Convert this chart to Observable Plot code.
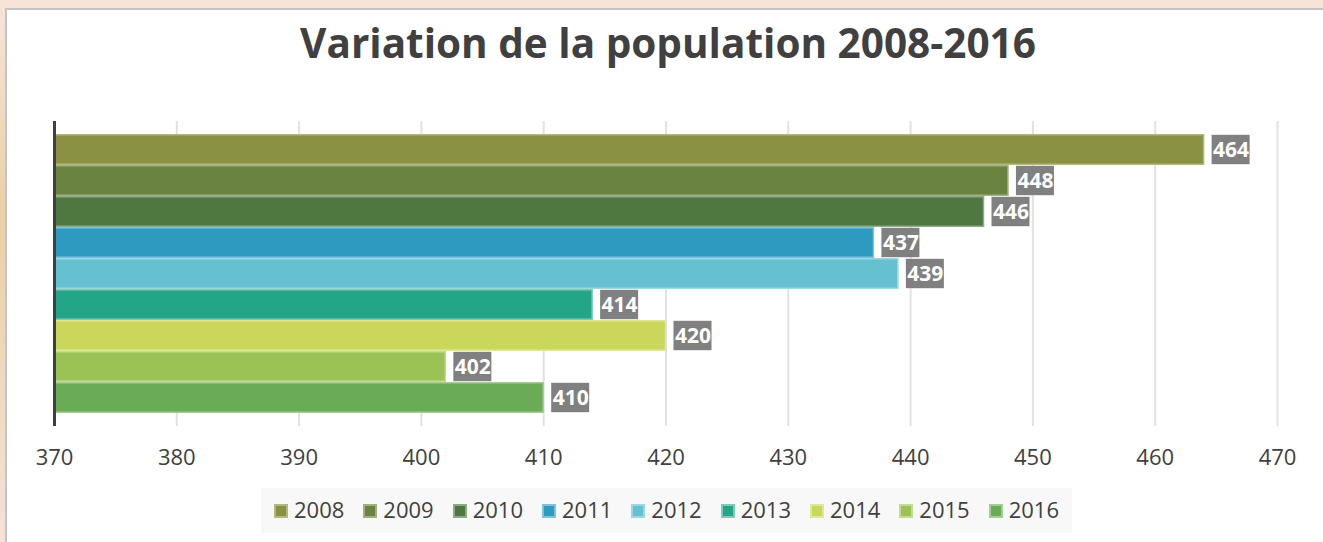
<!DOCTYPE html>
<html><head><meta charset="utf-8">
<script src="https://cdn.jsdelivr.net/npm/d3@7"></script>
<script src="https://cdn.jsdelivr.net/npm/@observablehq/plot@0.6"></script>
<style>
html,body{margin:0;padding:0;}
body{width:1323px;height:542px;overflow:hidden;position:relative;font-family:"Open Sans",sans-serif;
background:linear-gradient(180deg,#f7e4d8 0%,#e9d0a8 40%,#f5e2d6 100%);}
#panel{position:absolute;left:5px;top:8px;width:1330px;height:560px;background:#fff;border:2px solid #c4c4c4;box-sizing:border-box;}
#title{position:absolute;left:0;width:1336px;top:15px;text-align:center;font-weight:700;font-size:40.5px;color:#404040;}
#chart{position:absolute;left:0;top:0;}
#legend{position:absolute;left:261px;top:488px;width:811px;height:45px;background:#f8f8f8;display:flex;justify-content:center;align-items:center;gap:19px;}
.item{display:flex;align-items:center;font-size:22px;color:#404040;margin-top:-3px;}
.sw{width:10px;height:10px;border:2px solid;margin-right:6px;margin-top:3px;}
</style></head>
<body>
<div id="panel"></div>
<div id="title">Variation de la population 2008-2016</div>
<div id="chart"></div>
<div id="legend"></div>
<script>
const years = ["2008","2009","2010","2011","2012","2013","2014","2015","2016"];
const values = [464,448,446,437,439,414,420,402,410];
const colors = ["#8a9142","#6b8340","#4e7840","#2e9ac0","#65c0cf","#23a587","#cad75a","#9bc255","#6aac55"];
const strokes = ["#b3b87e","#a0b080","#8fa888","#7cc2dc","#9ad8e2","#7ccbb8","#e0e898","#c2dc95","#a4cc95"];
const xTicks = [370,380,390,400,410,420,430,440,450,460,470];
const baseline = 370;

const data = years.map((y,i)=>({year:y,value:values[i],color:colors[i],stroke:strokes[i]}));

const plot = Plot.plot({
  width:1323, height:480,
  marginLeft:54, marginRight:46, marginTop:121, marginBottom:54,
  style:{fontFamily:"Open Sans", fontSize:"22px", color:"#404040", background:"transparent"},
  x:{domain:[370,470], ticks:xTicks, label:null},
  y:{domain:years, padding:0, insetTop:9, insetBottom:10, axis:null},
  marks:[
    Plot.ruleX(xTicks.slice(1), {stroke:"#e2e2e2", strokeWidth:2}),
    Plot.barX(data, {y:"year", x1:baseline, x2:"value", fill:d=>d.color, stroke:d=>d.stroke, strokeWidth:1.5, insetTop:0.75, insetBottom:0.75}),
    Plot.barX(data, {y:"year", x1:"value", x2:"value", fill:"#808080", insetLeft:8, insetRight:-46, insetTop:0.8, insetBottom:0.8}),
    Plot.text(data, {y:"year", x:"value", text:d=>String(d.value), dx:27, fill:"white", fontWeight:"bold", fontSize:21, textAnchor:"middle"}),
    Plot.ruleX([baseline], {stroke:"#404040", strokeWidth:3}),
    Plot.axisX({ticks:xTicks, tickSize:0, tickPadding:23, label:null, fontSize:22, fill:"#404040"})
  ]
});
document.getElementById("chart").appendChild(plot);

const leg = document.getElementById("legend");
years.forEach((y,i)=>{
  const it = document.createElement("div");
  it.className="item";
  it.innerHTML = `<span class="sw" style="background:${colors[i]};border-color:${strokes[i]}"></span><span>${y}</span>`;
  leg.appendChild(it);
});
</script>
</body></html>
